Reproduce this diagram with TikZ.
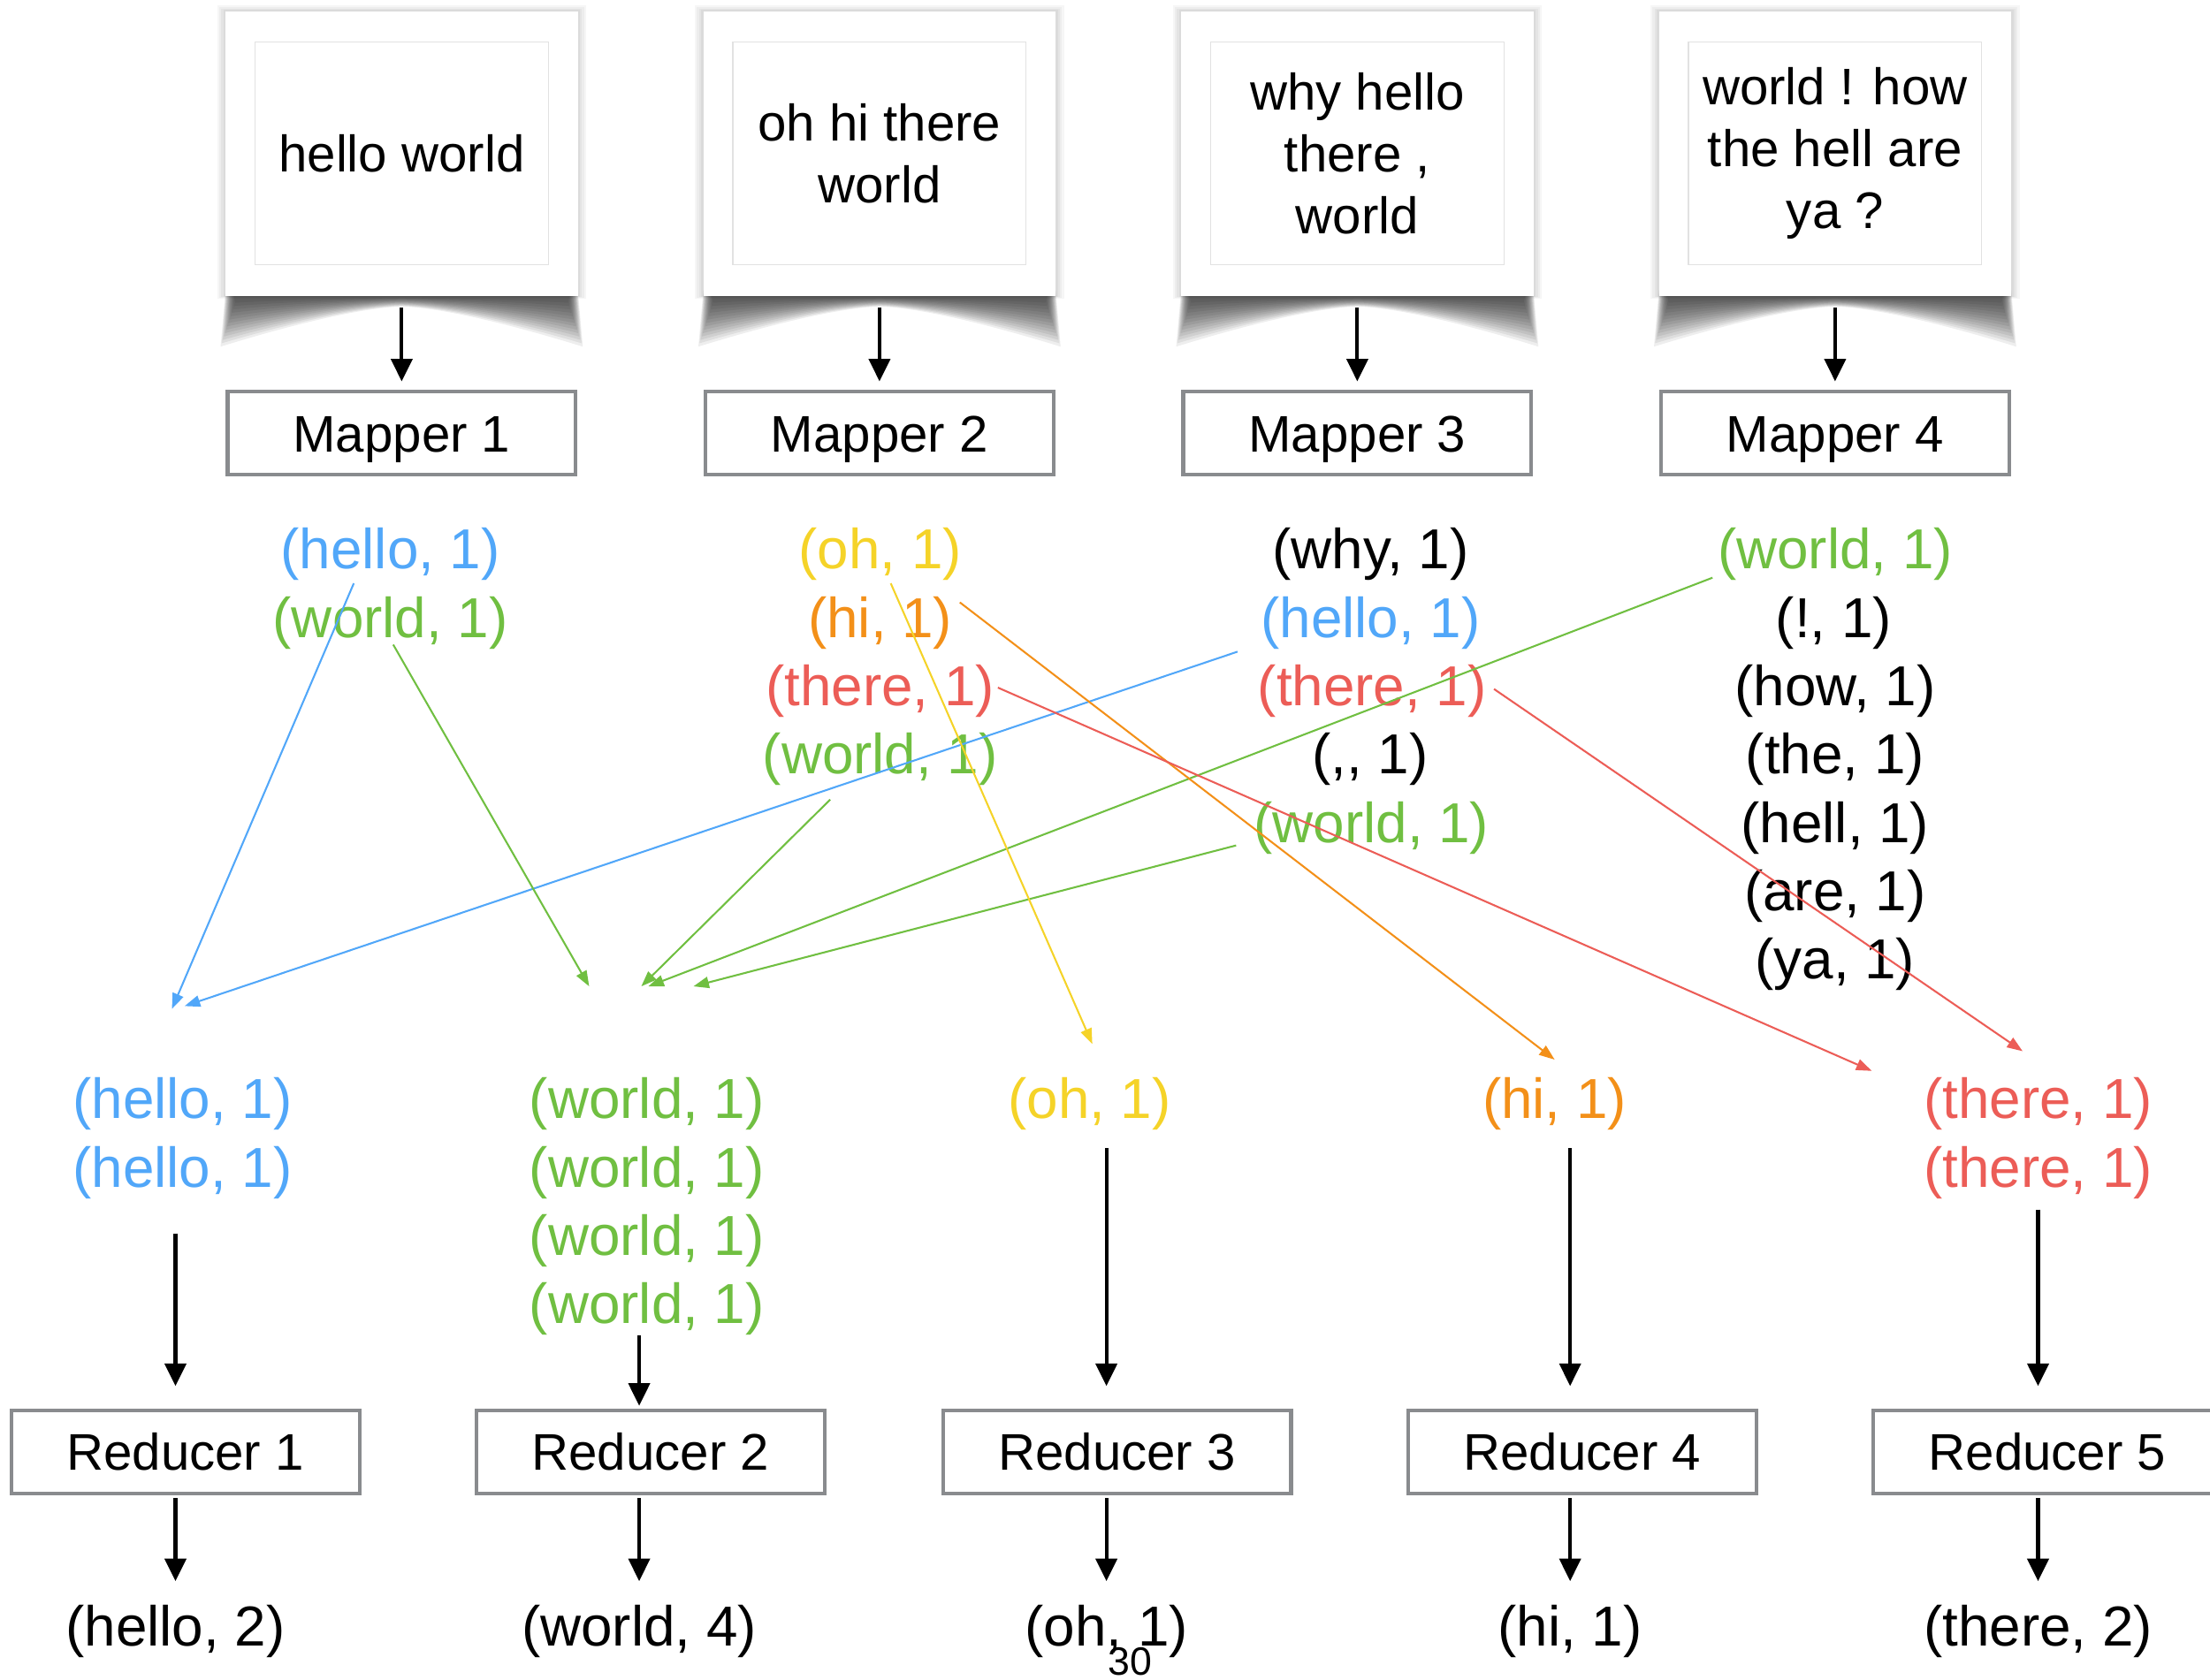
\documentclass[tikz,border=0pt]{standalone}
\usepackage{fontspec}
\setmainfont{Liberation Sans}
\usetikzlibrary{arrows.meta}
\definecolor{kblue}{HTML}{51A7F9}
\definecolor{kgreen}{HTML}{70BF41}
\definecolor{kyellow}{HTML}{F5D328}
\definecolor{korange}{HTML}{F39019}
\definecolor{kred}{HTML}{EC5D57}
\definecolor{boxgray}{HTML}{898B8E}
\definecolor{innergray}{HTML}{E2E2E2}
\newcommand\papershadow[1]{%
  \foreach \k in {0,...,13} {
    \fill[black, opacity=0.065] (#1-125+\k*0.4, 206) -- (#1-128.5+\k*0.8, 246-\k*2.4)
      .. controls (#1-80, 231-\k*1.4) and (#1-30, 218.5-\k*0.5) .. (#1, 217.5-\k*0.45)
      .. controls (#1+30, 218.5-\k*0.5) and (#1+80, 231-\k*1.4) .. (#1+128.5-\k*0.8, 246-\k*2.4)
      -- (#1+125-\k*0.4, 206) -- cycle;
  }
  \foreach \k in {1,...,4} {
    \fill[black, opacity=0.035] (#1-125-\k*1.5, 8-\k) rectangle (#1+125+\k*1.5, 210+\k*0.5);
  }
}
\begin{document}
\begin{tikzpicture}[x=1pt,y=-1pt,
  pair/.style={inner sep=0pt, yshift=-2.5pt, font=\fontsize{40}{48}\selectfont},
  procbox/.style={draw=boxgray, line width=2.6pt, fill=white, minimum width=247pt, minimum height=59pt, inner sep=0pt, text height=26pt, text depth=0pt, font=\fontsize{36.5}{44}\selectfont},
  sheetbox/.style={fill=white, minimum width=250pt, minimum height=202pt, inner sep=0pt},
  innerframe/.style={draw=innergray, line width=0.8pt, minimum width=208pt, minimum height=158pt, inner sep=0pt, align=center, font=\fontsize{36.5}{44}\selectfont},
  bigarrow/.style={line width=2.6pt, -{Triangle[length=16pt,width=15pt]}},
  flow/.style={line width=1.3pt, -{Triangle[length=11pt,width=8pt]}},
]
\fill[white] (0,0) rectangle (1568,1192);
\useasboundingbox (0,0) rectangle (1568,1192);

% input sheets
\papershadow{285}
\papershadow{624}
\papershadow{963}
\papershadow{1302}
\node[sheetbox] (s1) at (285,109) {};
\node[sheetbox] (s2) at (624,109) {};
\node[sheetbox] (s3) at (963,109) {};
\node[sheetbox] (s4) at (1302,109) {};
\node[innerframe] (f1) at (s1.center) {hello world};
\node[innerframe] (f2) at (s2.center) {oh hi there\\world};
\node[innerframe] (f3) at (s3.center) {why hello\\there ,\\world};
\node[innerframe] (f4) at (s4.center) {world ! how\\the hell are\\ya ?};

% mappers
\node[procbox] (m1) at (285,307.5) {Mapper 1};
\node[procbox] (m2) at (624,307.5) {Mapper 2};
\node[procbox] (m3) at (963,307.5) {Mapper 3};
\node[procbox] (m4) at (1302,307.5) {Mapper 4};
\foreach \i in {1,...,4} {
  \draw[bigarrow, shorten <=8pt, shorten >=6pt] (s\i.south) -- (m\i.north);
}

% mapper outputs
\node[pair, text=kblue]  (a1) at (277,391)   {(hello, 1)};
\node[pair, text=kgreen] (a2) at (277,439.5) {(world, 1)};

\node[pair, text=kyellow] (b1) at (624.5,391)   {(oh, 1)};
\node[pair, text=korange] (b2) at (624.5,439.5) {(hi, 1)};
\node[pair, text=kred]    (b3) at (624.5,488)   {(there, 1)};
\node[pair, text=kgreen]  (b4) at (624.5,536.5) {(world, 1)};

\node[pair]               (c1) at (972.5,391)   {(why, 1)};
\node[pair, text=kblue]   (c2) at (972.5,439.5) {(hello, 1)};
\node[pair, text=kred]    (c3) at (973.5,488)   {(there, 1)};
\node[pair]               (c4) at (972,536.5)   {(,\kern0pt, 1)};
\node[pair, text=kgreen]  (c5) at (973,585)     {(world, 1)};

\node[pair, text=kgreen]  (d1) at (1302,391)   {(world, 1)};
\node[pair]               (d2) at (1301,439.5) {(!, 1)};
\node[pair]               (d3) at (1302,488)   {(how, 1)};
\node[pair]               (d4) at (1302,536.5) {(the, 1)};
\node[pair]               (d5) at (1302,585)   {(hell, 1)};
\node[pair]               (d6) at (1302,633.5) {(are, 1)};
\node[pair]               (d7) at (1302,682)   {(ya, 1)};

% reducer inputs
\node[pair, text=kblue]   (h1) at (129.5,781)   {(hello, 1)};
\node[pair, text=kblue]   (h2) at (129.5,829.5) {(hello, 1)};
\node[pair, text=kgreen]  (w1) at (459,781)     {(world, 1)};
\node[pair, text=kgreen]  (w2) at (459,829.5)   {(world, 1)};
\node[pair, text=kgreen]  (w3) at (459,878)     {(world, 1)};
\node[pair, text=kgreen]  (w4) at (459,926.5)   {(world, 1)};
\node[pair, text=kyellow] (o1) at (773,781)     {(oh, 1)};
\node[pair, text=korange] (i1) at (1103,781)    {(hi, 1)};
\node[pair, text=kred]    (e1) at (1446,781)    {(there, 1)};
\node[pair, text=kred]    (e2) at (1446,829.5)  {(there, 1)};

% reducers
\node[procbox] (r1) at (131.5,1030.5) {Reducer 1};
\node[procbox] (r2) at (461.5,1030.5) {Reducer 2};
\node[procbox] (r3) at (792.5,1030.5) {Reducer 3};
\node[procbox] (r4) at (1122.5,1030.5) {Reducer 4};
\node[procbox] (r5) at (1452.5,1030.5) {Reducer 5};

% results
\node[pair] (res1) at (124.5,1155) {(hello, 2)};
\node[pair] (res2) at (453.5,1155) {(world, 4)};
\node[pair] (res3) at (785,1155)   {(oh, 1)};
\node[pair] (res4) at (1114,1155)  {(hi, 1)};
\node[pair] (res5) at (1446,1155)  {(there, 2)};
\node[inner sep=0pt, font=\fontsize{28}{32}\selectfont] (pg) at (802,1179) {30};

% reducer arrows
\draw[bigarrow, shorten <=24.5pt, shorten >=16pt] (h2.south -| res1.north) -- (r1.north -| res1.north);
\draw[bigarrow, shorten <=0pt, shorten >=2pt] (w4.south -| res2.north) -- (r2.north -| res2.north);
\draw[bigarrow, shorten <=12.5pt, shorten >=16pt] (o1.south -| res3.north) -- (r3.north -| res3.north);
\draw[bigarrow, shorten <=12.5pt, shorten >=16pt] (i1.south -| res4.north) -- (r4.north -| res4.north);
\draw[bigarrow, shorten <=7.5pt, shorten >=16pt] (e2.south -| res5.north) -- (r5.north -| res5.north);
\foreach \i in {1,...,5} {
  \draw[bigarrow, shorten <=2pt, shorten >=16.5pt] (r\i.south -| res\i.north) -- (res\i.north);
}

% shuffle targets
\coordinate (tb1) at (122,716);
\coordinate (tb2) at (131,714);
\coordinate (tg1) at (418,700);
\coordinate (tg2) at (455,700);
\coordinate (tg3) at (460,700);
\coordinate (tg4) at (492,700);
\coordinate (ty)  at (775,741);
\coordinate (to)  at (1103,752);
\coordinate (tr1) at (1328,760);
\coordinate (tr2) at (1435,746);

% shuffle arrows
\draw[flow, kblue]   ([shift={(-26,20.5)}]a1.center) -- (tb1);
\draw[flow, kblue]   ([shift={(-94.5,20.5)}]c2.center) -- (tb2);
\draw[flow, kgreen]  ([shift={(2,15.5)}]a2.center) -- (tg1);
\draw[flow, kgreen]  ([shift={(-35.5,28.5)}]b4.center) -- (tg2);
\draw[flow, kgreen]  ([shift={(-87,16.5)}]d1.center) -- (tg3);
\draw[flow, kgreen]  ([shift={(-96,12.5)}]c5.center) -- (tg4);
\draw[flow, kyellow] ([shift={(7.5,20.5)}]b1.center) -- (ty);
\draw[flow, korange] ([shift={(56.5,-14.5)}]b2.center) -- (to);
\draw[flow, kred]    ([shift={(83.5,-2.5)}]b3.center) -- (tr1);
\draw[flow, kred]    ([shift={(86.5,-1.5)}]c3.center) -- (tr2);
\end{tikzpicture}
\end{document}
